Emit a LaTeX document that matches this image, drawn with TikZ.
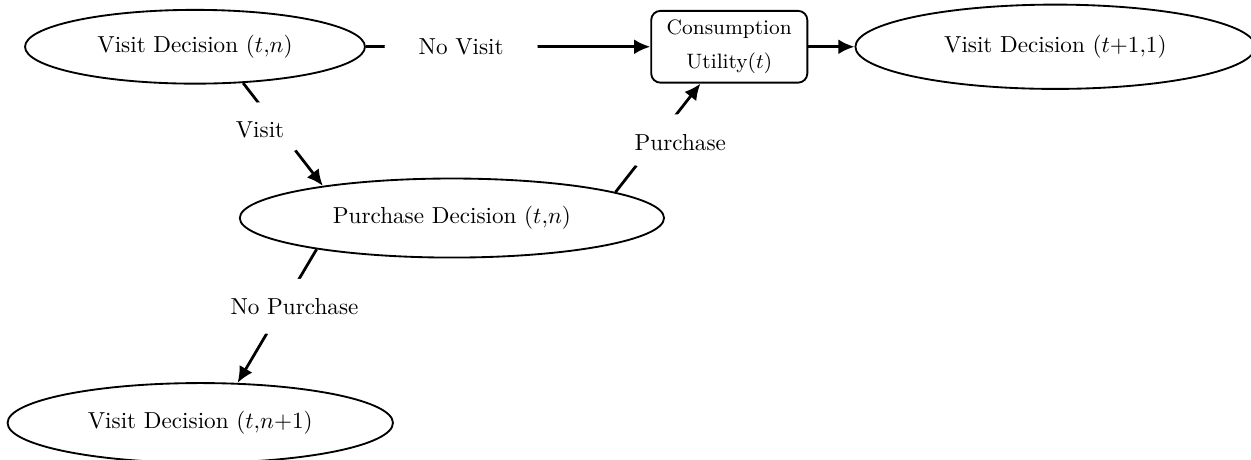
\documentclass[tikz,border=0pt]{standalone}
\usetikzlibrary{shapes.geometric,arrows.meta}

\begin{document}
\begin{tikzpicture}[
  decision/.style={ellipse, draw, thick, minimum width=5.2cm, minimum height=1.15cm},
  utilbox/.style={rectangle, draw, thick, rounded corners=4pt, minimum width=2.37cm, minimum height=1.09cm, align=center, font=\small},
  lbl/.style={ellipse, fill=white, inner sep=5pt},
  flow/.style={-{Latex[length=7pt,width=6.5pt]}, very thick},
]
\useasboundingbox (0,0) rectangle (18.99,-6.97);

% Row 1: visit, consumption, next period
\node[decision, minimum width=5.16cm, minimum height=1.12cm] (visit) at (2.96,-0.71) {Visit Decision $(t{,}n)$};
\node[utilbox] (util) at (11.07,-0.71) {Consumption\\[4pt]Utility$(t)$};
\node[decision, minimum width=6.07cm, minimum height=1.28cm] (next) at (16.02,-0.71) {Visit Decision $(t{+}1{,}1)$};

% Row 2: purchase
\node[decision, minimum width=6.44cm, minimum height=1.2cm] (purch) at (6.86,-3.31) {Purchase Decision $(t{,}n)$};

% Row 3: next customer
\node[decision, minimum width=5.85cm, minimum height=1.21cm] (again) at (3.04,-6.42) {Visit Decision $(t{,}n{+}1)$};

% Arrows
\draw[flow] (visit) -- (util) node[lbl, pos=0.335] {No Visit};
\draw[flow] (util) -- (next);
\draw[flow] (visit.-37) -- (purch.166) node[lbl, pos=0.46, xshift=-0.3cm] {Visit};
\draw[flow] (purch.9) -- (util) node[lbl, pos=0.46, xshift=0.39cm] {Purchase};
\draw[flow] (purch.193) -- (again.47) node[lbl, pos=0.43, xshift=0.18cm] {No Purchase};

\end{tikzpicture}
\end{document}
